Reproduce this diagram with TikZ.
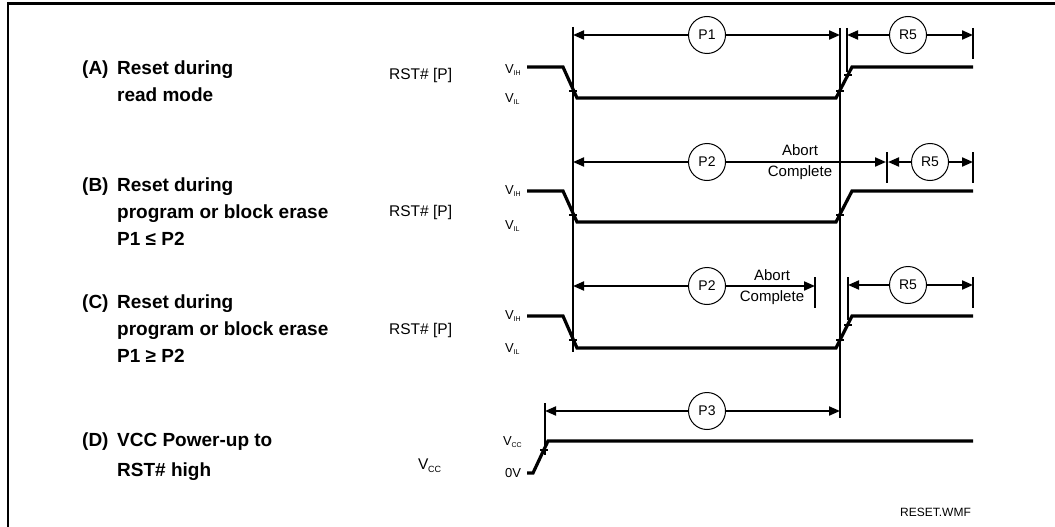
\documentclass[tikz,border=0pt]{standalone}
\usepackage{fontspec}
\setmainfont{Liberation Sans}
\usetikzlibrary{arrows.meta}

\newcommand{\lvl}[1]{V\kern-0.3pt\raisebox{-2.5pt}{\fontsize{7}{7}\selectfont #1}}

\begin{document}
\begin{tikzpicture}[
        x=1pt, y=-1pt,
        wave/.style={line width=3.2pt, line join=miter},
        guide/.style={line width=1.2pt},
        tick/.style={line width=1.4pt},
        span/.style={line width=2pt, -{Triangle[length=11pt, width=9pt]}},
        tag/.style={circle, draw, line width=1pt, fill=white, minimum size=37pt, inner sep=0pt, font=\fontsize{14}{14}\selectfont},
        case/.style={anchor=north west, inner sep=0pt, align=left, font=\fontsize{19}{27}\selectfont\bfseries},
        signame/.style={anchor=west, inner sep=0pt, font=\fontsize{15.5}{15.5}\selectfont},
        level/.style={anchor=west, inner sep=0pt, font=\fontsize{13}{13}\selectfont},
        note/.style={inner sep=0pt, align=center, font=\fontsize{15}{21}\selectfont}
    ]
    \useasboundingbox (0,0) rectangle (1055,527);

    % Frame (top and left edges only)
    \draw[line width=3pt] (8,3.5) -- (1055,3.5);
    \draw[line width=2.2pt] (8,2) -- (8,527);

    % Case labels
    \node[case] (tagA) at (82,61) {(A)};
    \node[case] (txtA) at (117,61) {Reset during\\read mode};
    \node[case] (tagB) at (82,178) {(B)};
    \node[case] (txtB) at (117,178) {Reset during\\program or block erase\\P1 ≤ P2};
    \node[case] (tagC) at (82,295) {(C)};
    \node[case] (txtC) at (117,295) {Reset during\\program or block erase\\P1 ≥ P2};
    \node[case] (tagD) at (82,433) {(D)};
    \node[case] (txtD) at (117,433) {VCC Power-up to\\[3pt]RST\# high};

    % Signal names and levels
    \node[signame] (rstA) at (389,75) {RST\# [P]};
    \node[signame] (rstB) at (389,212) {RST\# [P]};
    \node[signame] (rstC) at (389,330) {RST\# [P]};
    \node[signame] (vccD) at (418,466) {V\kern-0.3pt\raisebox{-3pt}{\fontsize{9}{9}\selectfont CC}};
    \node[level] (ihA) at (505,70) {\lvl{IH}};
    \node[level] (ilA) at (505,99) {\lvl{IL}};
    \node[level] (ihB) at (505,191) {\lvl{IH}};
    \node[level] (ilB) at (505,226) {\lvl{IL}};
    \node[level] (ihC) at (505,316) {\lvl{IH}};
    \node[level] (ilC) at (505,349) {\lvl{IL}};
    \node[level] (ccD) at (503,442) {\lvl{CC}};
    \node[level] (zeroD) at (505,473) {0V};

    % Waveforms
    \draw[wave] (527,67) -- (563,67) -- (577,98) -- (836,98) -- (852,67) -- (973,67);
    \draw[wave] (527,191) -- (563,191) -- (577,222) -- (836,222) -- (852,191) -- (973,191);
    \draw[wave] (527,316) -- (563,316) -- (577,348) -- (836,348) -- (852,316) -- (973,316);
    \draw[wave] (527,473) -- (533,473) -- (548,441) -- (973,441);

    % Ticks on the edges
    \foreach \x/\y in {573/91, 840/91, 848/75, 573/215, 840/215, 573/340, 840/340, 848/325, 544/450}
        \draw[tick] (\x-4,\y) -- (\x+4,\y);

    % Guide lines
    \draw[guide] (573,27) -- (573,352);
    \draw[guide] (840,28) -- (840,418);
    \draw[guide] (847,28) -- (847,72);
    \draw[guide] (973,28) -- (973,59);
    \draw[guide] (887,152) -- (887,183);
    \draw[guide] (973,152) -- (973,183);
    \draw[guide] (815,277) -- (815,308);
    \draw[guide] (848,277) -- (848,320);
    \draw[guide] (973,277) -- (973,308);
    \draw[guide] (545,403) -- (545,455);

    % (A) timing spans
    \coordinate (a1) at (573,35);
    \coordinate (a2) at (840,35);
    \coordinate (a3) at (847,35);
    \coordinate (a4) at (973,35);
    \node[tag] (p1) at (707,35) {P1};
    \node[tag] (r5a) at (908,35) {R5};
    \draw[span] (p1) -- (a1);
    \draw[span] (p1) -- (a2);
    \draw[span] (r5a) -- (a3);
    \draw[span] (r5a) -- (a4);

    % (B) timing spans
    \coordinate (b1) at (573,162);
    \coordinate (b2) at (886,162);
    \coordinate (b3) at (888,162);
    \coordinate (b4) at (973,162);
    \node[tag] (p2b) at (707,162) {P2};
    \node[tag] (r5b) at (930,162) {R5};
    \draw[span] (p2b) -- (b1);
    \draw[span] (p2b) -- (b2);
    \draw[span] (r5b) -- (b3);
    \draw[span] (r5b) -- (b4);
    \node[note] (abortB) at (800,162) {Abort\\Complete};

    % (C) timing spans
    \coordinate (c1) at (573,286);
    \coordinate (c2) at (815,286);
    \coordinate (c3) at (848,285);
    \coordinate (c4) at (973,285);
    \node[tag] (p2c) at (707,286) {P2};
    \node[tag] (r5c) at (908,285) {R5};
    \draw[span] (p2c) -- (c1);
    \draw[span] (p2c) -- (c2);
    \draw[span] (r5c) -- (c3);
    \draw[span] (r5c) -- (c4);
    \node[note] (abortC) at (772,287) {Abort\\Complete};

    % (D) timing span
    \coordinate (d1) at (545,411);
    \coordinate (d2) at (840,411);
    \node[tag] (p3) at (707,411) {P3};
    \draw[span] (p3) -- (d1);
    \draw[span] (p3) -- (d2);

    \node[anchor=west, inner sep=0pt, font=\fontsize{12}{12}\selectfont] (fname) at (900,512) {RESET.WMF};

\end{tikzpicture}
\end{document}
